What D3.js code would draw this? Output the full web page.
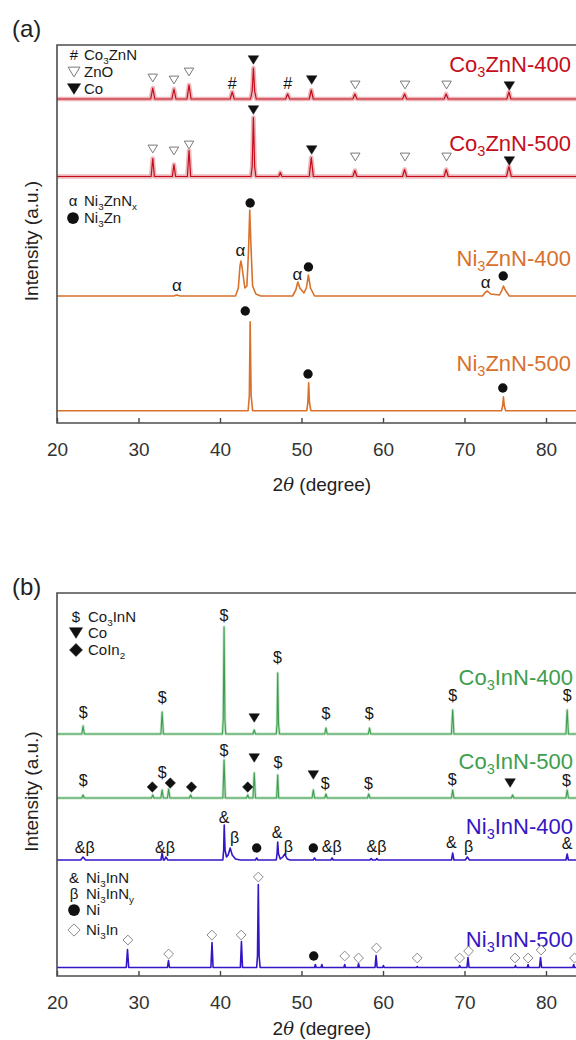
<!DOCTYPE html>
<html><head><meta charset="utf-8">
<script src="https://cdn.jsdelivr.net/npm/d3@7"></script>
<style>body{margin:0;background:#fff}</style>
</head><body><div id="chart"></div>
<script>
// ================= DATA =================
const tickValues = [20, 30, 40, 50, 60, 70, 80];
const xDomain = [20, 85];

// ---- panel (a) ----
const namesA = ["Co_3ZnN-400", "Co_3ZnN-500", "Ni_3ZnN-400", "Ni_3ZnN-500"];
const offsetsA = [324, 246.5, 127, 12.3];
const labelYA = [359, 280, 165, 60];
const co3ZnN400 = [[20,0],[31.5,0],[31.75,11],[32.0,0],[34.1,0],[34.35,10],[34.6,0],[35.95,0],[36.2,14],[36.45,0],[41.25,0],[41.5,7],[41.75,0],[43.75,0],[43.95,8],[44.1,31],[44.25,8],[44.45,0],[48.05,0],[48.3,5],[48.55,0],[50.95,0],[51.2,9],[51.45,0],[56.3,0],[56.55,5],[56.8,0],[62.4,0],[62.65,5],[62.9,0],[67.5,0],[67.75,5],[68.0,0],[75.2,0],[75.45,7],[75.7,0],[85,0]];
const co3ZnN500 = [[20,0],[31.55,0],[31.75,18],[31.95,0],[34.15,0],[34.35,12],[34.55,0],[36.0,0],[36.2,26],[36.4,0],[43.8,0],[43.95,10],[44.1,59],[44.25,10],[44.4,0],[47.2,0],[47.4,4],[47.6,0],[50.95,0],[51.2,19],[51.45,0],[56.3,0],[56.55,6],[56.8,0],[62.4,0],[62.65,7],[62.9,0],[67.5,0],[67.75,7],[68.0,0],[75.15,0],[75.45,10],[75.75,0],[85,0]];
const ni3ZnN400 = [[20,0],[34.3,0],[34.7,1],[35.1,0],[41.9,0],[42.25,8],[42.45,30],[42.57,35],[42.72,28],[43.05,8],[43.3,10],[43.5,45],[43.65,86],[43.8,50],[44.0,10],[44.4,2],[45,0],[48.9,0],[49.3,6],[49.55,14],[49.8,8],[50.3,3],[50.6,8],[50.85,21],[51.1,8],[51.6,0],[72.2,0],[72.6,4],[72.8,5],[73.2,2],[74.3,1],[74.6,6],[74.78,10],[75.0,6],[75.5,0],[85,0]];
const ni3ZnN500 = [[20,0],[43.45,0],[43.6,15],[43.7,89],[43.82,15],[44.0,0],[50.65,0],[50.78,8],[50.88,28],[50.98,8],[51.15,0],[74.55,0],[74.68,5],[74.78,14],[74.88,5],[75.05,0],[85,0]];
const annCo3ZnN400 = [[31.75,345,"triO"],[34.35,343,"triO"],[36.2,351,"triO"],[41.5,340,"hash"],[44.1,363,"tri"],[48.3,340,"hash"],[51.25,343,"tri"],[56.6,338,"triO"],[62.7,338,"triO"],[67.8,338,"triO"],[75.5,337,"tri"]];
const annCo3ZnN500 = [[31.75,274,"triO"],[34.35,272,"triO"],[36.2,278,"triO"],[44.1,313,"tri"],[51.25,273,"tri"],[56.6,266,"triO"],[62.7,266,"triO"],[67.8,266,"triO"],[75.5,262,"tri"]];
const annNi3ZnN400 = [[34.7,138,"alpha"],[42.5,173,"alpha"],[43.7,220,"dot"],[49.5,149,"alpha"],[50.85,156,"dot"],[72.6,141,"alpha"],[74.75,147,"dot"]];
const annNi3ZnN500 = [[43.1,112,"dot"],[50.8,49,"dot"],[74.7,35,"dot"]];
const legendA1 = [["hash","Co_3ZnN"],["triO","ZnO"],["tri","Co"]];
const legendA2 = [["alpha","Ni_3ZnN_x"],["dot","Ni_3Zn"]];

// ---- panel (b) ----
const namesB = ["Co_3InN-400", "Co_3InN-500", "Ni_3InN-400", "Ni_3InN-500"];
const offsetsB = [242, 178, 116, 8.5];
const labelYB = [299, 215, 150, 37];
const co3InN400 = [[20,0],[23.05,0],[23.2,8],[23.35,0],[32.75,0],[32.9,22],[33.05,0],[40.3,0],[40.4,15],[40.5,107],[40.6,15],[40.7,0],[44.05,0],[44.2,4],[44.35,0],[46.9,0],[47.0,10],[47.08,61],[47.18,10],[47.3,0],[52.85,0],[53.0,6],[53.15,0],[58.2,0],[58.35,6],[58.5,0],[68.4,0],[68.55,24],[68.7,0],[82.45,0],[82.6,24],[82.75,0],[85,0]];
const co3InN500 = [[20,0],[23.05,0],[23.2,3],[23.35,0],[31.6,0],[31.75,3],[31.9,0],[32.75,0],[32.9,8],[33.05,0],[33.55,0],[33.7,9],[33.85,0],[36.25,0],[36.4,3],[36.55,0],[40.35,0],[40.5,38],[40.65,0],[43.25,0],[43.4,3],[43.55,0],[44.05,0],[44.2,25],[44.35,0],[46.95,0],[47.08,23],[47.2,0],[51.3,0],[51.45,8],[51.6,0],[52.85,0],[53.0,4],[53.15,0],[58.1,0],[58.25,4],[58.4,0],[68.4,0],[68.55,8],[68.7,0],[75.75,0],[75.9,3],[76.05,0],[82.45,0],[82.6,8],[82.75,0],[85,0]];
const ni3InN400 = [[20,0],[22.9,0],[23.2,3],[23.5,0],[32.75,0],[32.9,7],[33.05,0],[33.2,0],[33.35,3],[33.6,0],[40.35,0],[40.45,10],[40.52,35],[40.62,10],[40.8,3],[41.0,5],[41.25,12],[41.5,5],[41.9,1],[42.5,0],[44.35,0],[44.5,2],[44.65,0],[46.9,0],[47.0,6],[47.08,18],[47.18,6],[47.4,1],[47.7,3],[47.95,6],[48.25,1],[48.6,0],[51.45,0],[51.6,2],[51.75,0],[53.6,0],[53.75,2],[53.9,0],[58.4,0],[58.55,1.5],[58.7,0],[59.1,0],[59.25,1.5],[59.4,0],[68.4,0],[68.55,7],[68.7,0],[70.1,0],[70.35,3],[70.6,0],[82.45,0],[82.6,6],[82.75,0],[85,0]];
const ni3InN500 = [[20,0],[28.5,0],[28.65,18],[28.8,0],[33.55,0],[33.68,7],[33.8,0],[38.88,0],[39.02,25],[39.15,0],[42.5,0],[42.63,26],[42.76,0],[44.5,0],[44.6,12],[44.7,83],[44.8,12],[44.92,0],[51.6,0],[51.7,3],[51.8,0],[52.4,0],[52.5,3],[52.6,0],[55.2,0],[55.3,3],[55.4,0],[56.9,0],[57.0,4],[57.1,0],[59.02,0],[59.15,12],[59.28,0],[59.95,0],[60.05,2],[60.15,0],[64.1,0],[64.2,1],[64.3,0],[69.3,0],[69.4,2],[69.5,0],[70.3,0],[70.43,10],[70.56,0],[76.15,0],[76.25,2],[76.35,0],[77.7,0],[77.8,3],[77.9,0],[79.2,0],[79.33,10],[79.46,0],[83.3,0],[83.4,3],[83.5,0],[85,0]];
const annCo3InN400 = [[23.2,264,"dollar"],[32.9,279,"dollar"],[40.5,361,"dollar"],[44.2,258,"tri"],[47.05,319,"dollar"],[53.0,263,"dollar"],[58.3,263,"dollar"],[68.55,281,"dollar"],[82.6,281,"dollar"]];
const annCo3InN500 = [[23.2,196,"dollar"],[31.7,189,"dia"],[32.9,204,"dollar"],[33.9,193,"dia"],[36.5,189,"dia"],[40.5,226,"dollar"],[43.4,189,"dia"],[44.2,218,"tri"],[47.1,214,"dollar"],[51.45,201,"tri"],[52.9,193,"dollar"],[58.2,193,"dollar"],[68.5,197,"dollar"],[75.6,193,"tri"],[82.5,196,"dollar"]];
const annNi3InN400 = [[23.4,129,"ampbeta"],[33.25,129,"ampbeta"],[40.5,159,"amp"],[41.8,139,"beta"],[44.5,128,"dot"],[47.0,144,"amp"],[48.4,130,"beta"],[51.45,128,"dot"],[53.7,130,"ampbeta"],[59.2,130,"ampbeta"],[68.4,134,"amp"],[70.5,130,"beta"],[82.6,133,"amp"]];
const annNi3InN500 = [[28.7,36,"diaO"],[33.7,22,"diaO"],[39.0,41,"diaO"],[42.6,41,"diaO"],[44.7,99,"diaO"],[51.5,20,"dot"],[55.3,20,"diaO"],[57.0,18,"diaO"],[59.2,28,"diaO"],[64.2,18,"diaO"],[69.4,18,"diaO"],[70.5,25,"diaO"],[76.2,18,"diaO"],[77.8,18,"diaO"],[79.4,26,"diaO"],[83.5,18,"diaO"]];
const legendB1 = [["dollar","Co_3InN"],["tri","Co"],["dia","CoIn_2"]];
const legendB2 = [["amp","Ni_3InN"],["beta","Ni_3InN_y"],["dot","Ni"],["diaO","Ni_3In"]];

// ================= STYLE / LAYOUT =================
const W = 576, H = 1040;
const FONT = "'Liberation Sans', Arial, Helvetica, sans-serif";
const RED = "#c50d1c", ORANGE = "#d8712c", GREEN = "#3d9e4d", BLUE = "#3416c6";

const svg = d3.select("#chart").append("svg")
  .attr("width", W).attr("height", H)
  .style("font-family", FONT)
  .style("background", "#fff");

const x = d3.scaleLinear().domain(xDomain).range([57, 57 + 65 * 8.15]);

function rich(textSel, str, fs) {
  const parts = str.split(/(_.)/).filter(s => s.length);
  let shifted = false;
  parts.forEach(p => {
    if (p[0] === "_" && p.length === 2) {
      textSel.append("tspan").attr("font-size", fs * 0.66).attr("dy", fs * 0.24).text(p[1]);
      shifted = true;
    } else {
      const t = textSel.append("tspan").text(p);
      if (shifted) { t.attr("dy", -fs * 0.24); shifted = false; }
    }
  });
}

const textGlyph = { hash: "#", dollar: "$", alpha: "\u03b1", amp: "&", beta: "\u03b2", ampbeta: "&\u03b2" };

function glyph(g, type, cx, cy, k, fsText) {
  if (type === "tri" || type === "triO") {
    const w = (type === "tri" ? 10.5 : 9.5) * k, h = (type === "tri" ? 8.5 : 7.8) * k;
    const p = d3.path();
    p.moveTo(cx - w / 2, cy - h / 2); p.lineTo(cx + w / 2, cy - h / 2); p.lineTo(cx, cy + h / 2); p.closePath();
    g.append("path").attr("d", p.toString())
      .attr("fill", type === "tri" ? "#111" : "#fff")
      .attr("stroke", type === "tri" ? "#111" : "#7a7a7a")
      .attr("stroke-width", type === "tri" ? 0.5 : 1);
  } else if (type === "dia" || type === "diaO") {
    const r = (type === "dia" ? 5.2 : 4.9) * k;
    const p = d3.path();
    p.moveTo(cx, cy - r); p.lineTo(cx + r, cy); p.lineTo(cx, cy + r); p.lineTo(cx - r, cy); p.closePath();
    g.append("path").attr("d", p.toString())
      .attr("fill", type === "dia" ? "#111" : "#fff")
      .attr("stroke", type === "dia" ? "#111" : "#8a8a8a")
      .attr("stroke-width", type === "dia" ? 0.5 : 1);
  } else if (type === "dot") {
    g.append("circle").attr("cx", cx).attr("cy", cy).attr("r", 4.7 * k).attr("fill", "#111");
  } else {
    g.append("text").attr("x", cx).attr("y", cy + fsText * 0.36)
      .attr("text-anchor", "middle").attr("font-size", fsText).attr("fill", "#151515")
      .text(textGlyph[type]);
  }
}

function drawPanel(cfg) {
  const g = svg.append("g");
  const y = d3.scaleLinear().domain([0, cfg.yMax]).range([cfg.bottom, cfg.top]);

  // ticks + tick labels
  const axis = d3.axisBottom(x).tickValues(tickValues).tickSize(-5).tickPadding(20).tickFormat(d3.format("d"));
  const ax = g.append("g").attr("transform", `translate(0,${cfg.bottom})`).call(axis);
  ax.select(".domain").remove();
  ax.selectAll(".tick line").attr("stroke", "#444").attr("stroke-width", 1.4);
  ax.selectAll(".tick text").attr("font-size", 19).attr("fill", "#333").attr("font-family", FONT);

  // series
  const line = d3.line().x(d => x(d[0]));
  cfg.series.forEach((s, i) => {
    const off = cfg.offsets[i];
    line.y(d => y(d[1] + off));
    if (cfg.noise[i] > 0) {
      g.append("path").attr("d", line(s)).attr("fill", "none")
        .attr("stroke", cfg.colors[i]).attr("stroke-width", cfg.noise[i])
        .attr("stroke-opacity", 0.3).attr("stroke-linejoin", "round");
    }
    g.append("path").attr("d", line(s)).attr("fill", "none")
      .attr("stroke", cfg.colors[i]).attr("stroke-width", cfg.widths[i])
      .attr("stroke-linejoin", "round");
    // series label
    const t = g.append("text").attr("x", cfg.labelX).attr("y", y(cfg.labelY[i]) + 22 * 0.36)
      .attr("text-anchor", "end").attr("font-size", 22).attr("fill", cfg.colors[i]);
    rich(t, cfg.names[i], 22);
  });

  // annotations
  cfg.ann.forEach(list => list.forEach(a => glyph(g, a[2], x(a[0]), y(a[1]), 1, a[2] === "alpha" ? 17 : 16)));

  // frame (left, top, bottom; right side lies past the window)
  const fp = d3.path();
  fp.moveTo(x(xDomain[1]), y(cfg.yMax)); fp.lineTo(x(xDomain[0]), y(cfg.yMax));
  fp.lineTo(x(xDomain[0]), y(0)); fp.lineTo(x(xDomain[1]), y(0));
  g.append("path").attr("d", fp.toString()).attr("fill", "none").attr("stroke", "#4d4d4d").attr("stroke-width", 1.6);

  // legends
  cfg.legends.forEach(L => {
    L.items.forEach((it, j) => {
      const cy = L.ys[j];
      glyph(g, it[0], L.symX, cy, 1.25, 15);
      const t = g.append("text").attr("x", L.textX).attr("y", cy + 15 * 0.36)
        .attr("font-size", 15).attr("fill", "#1a1a1a");
      rich(t, it[1], 15);
    });
  });

  // y title
  const cyT = (cfg.top + cfg.bottom) / 2 + 7;
  g.append("text").attr("transform", `translate(31,${cyT}) rotate(-90)`)
    .attr("text-anchor", "middle").attr("dy", "0.35em")
    .attr("font-size", 19).attr("fill", "#222").text("Intensity (a.u.)");

  // x title
  const xt = g.append("text").attr("x", (x(20) + x(85)) / 2).attr("y", cfg.bottom + cfg.titleOff)
    .attr("text-anchor", "middle").attr("dy", "0.35em").attr("font-size", 19).attr("fill", "#222");
  xt.append("tspan").text("2");
  xt.append("tspan").attr("font-style", "italic").attr("font-family", "'DejaVu Serif', serif").attr("font-size", 18).text("\u03b8");
  xt.append("tspan").text(" (degree)");

  // panel label
  g.append("text").attr("x", 12).attr("y", cfg.panelY).attr("font-size", 24).attr("fill", "#222").text(cfg.panel);
}

drawPanel({
  top: 45, bottom: 423, yMax: 378, panel: "(a)", panelY: 37, titleOff: 61,
  series: [co3ZnN400, co3ZnN500, ni3ZnN400, ni3ZnN500],
  offsets: offsetsA, names: namesA, labelY: labelYA, labelX: 571,
  colors: [RED, RED, ORANGE, ORANGE], widths: [1.2, 1.2, 1.6, 1.6], noise: [4.5, 4.5, 0, 0],
  ann: [annCo3ZnN400, annCo3ZnN500, annNi3ZnN400, annNi3ZnN500],
  legends: [
    { items: legendA1, ys: [55, 72, 89], symX: 74, textX: 84 },
    { items: legendA2, ys: [201, 218], symX: 73, textX: 84 }
  ]
});

drawPanel({
  top: 593, bottom: 976, yMax: 383, panel: "(b)", panelY: 595, titleOff: 52,
  series: [co3InN400, co3InN500, ni3InN400, ni3InN500],
  offsets: offsetsB, names: namesB, labelY: labelYB, labelX: 573,
  colors: [GREEN, GREEN, BLUE, BLUE], widths: [1.1, 1.1, 1.6, 1.6], noise: [2.8, 2.8, 0, 0],
  ann: [annCo3InN400, annCo3InN500, annNi3InN400, annNi3InN500],
  legends: [
    { items: legendB1, ys: [617, 633, 650], symX: 76, textX: 88 },
    { items: legendB2, ys: [878, 894, 910, 930], symX: 74, textX: 86 }
  ]
});
</script>
</body></html>
